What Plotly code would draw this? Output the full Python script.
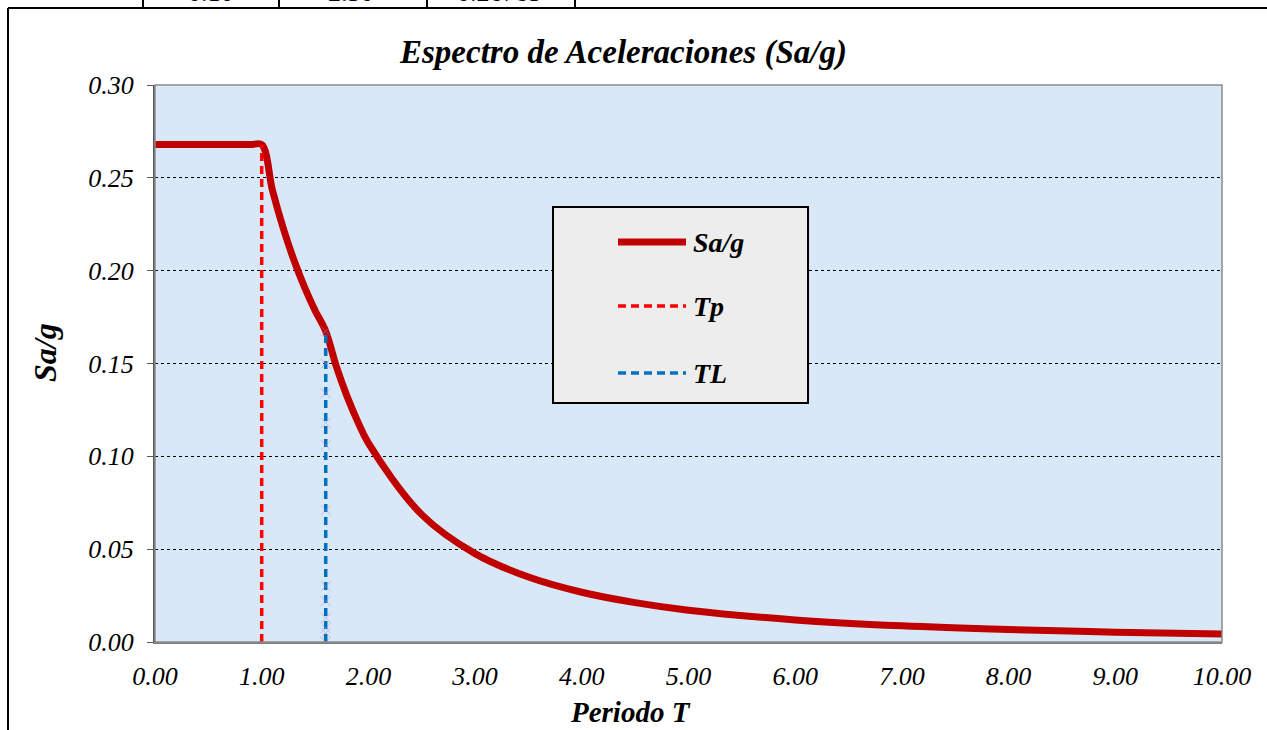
import plotly.graph_objects as go

# ---------------- data ----------------
periodo_T = [0.0, 0.1, 0.2, 0.3, 0.4, 0.5, 0.6, 0.7, 0.8, 0.9, 1.0,
             1.1, 1.2, 1.3, 1.4, 1.5, 1.6, 1.7, 1.8, 1.9, 2.0,
             2.5, 3.0, 3.5, 4.0, 4.5, 5.0, 6.0, 7.0, 8.0, 9.0, 10.0]
sa_g = [0.2679, 0.2679, 0.2679, 0.2679, 0.2679, 0.2679, 0.2679, 0.2679, 0.2679, 0.2679, 0.2679,
        0.2435, 0.2232, 0.2060, 0.1913, 0.1786, 0.1674, 0.1483, 0.1323, 0.1187, 0.1071,
        0.0686, 0.0476, 0.0350, 0.0268, 0.0212, 0.0171, 0.0119, 0.0087, 0.0067, 0.0053, 0.0043]

tp_T = [1.0, 1.0]
tp_y = [0.0, 0.2679]

tl_T = [1.6, 1.6, 1.6, 1.6, 1.6, 1.6, 1.6, 1.6, 1.6, 1.6, 1.6, 1.6]
tl_y = [0.0, 0.005, 0.0075, 0.013, 0.022, 0.030, 0.071, 0.106, 0.118, 0.134, 0.150, 0.1674]

x_ticks = [0, 1, 2, 3, 4, 5, 6, 7, 8, 9, 10]
y_ticks = [0.0, 0.05, 0.10, 0.15, 0.20, 0.25, 0.30]

table_cells = ["0.10", "2.50", "0.26785"]

legend_names = ["Sa/g", "Tp", "TL"]

# ---------------- layout geometry ----------------
W, H = 1267, 730
ML, MR, MT, MB = 155, 45, 85, 88
PW, PH = W - ML - MR, H - MT - MB


def px(x):
    return (x - ML) / PW


def py(y):
    return (H - MB - y) / PH


SERIF = "Liberation Serif"
RED_DARK = "#c00000"
RED = "#ff0000"
BLUE = "#0070c0"

fig = go.Figure()

fig.add_trace(go.Scatter(
    x=periodo_T, y=sa_g, mode="lines", name=legend_names[0],
    line=dict(color=RED_DARK, width=7, shape="spline", smoothing=1.0),
    showlegend=False))

fig.add_trace(go.Scatter(
    x=tp_T, y=tp_y, mode="lines", name=legend_names[1],
    line=dict(color=RED, width=3.5, dash="8px,5px"),
    showlegend=False))

fig.add_trace(go.Scatter(
    x=tl_T, y=tl_y, mode="lines+markers", name=legend_names[2],
    line=dict(color=BLUE, width=3.5, dash="8px,5px"),
    marker=dict(symbol="x-thin", size=10, color="rgba(150,140,200,0.45)",
                line=dict(width=1, color="rgba(150,140,200,0.45)")),
    showlegend=False))

shapes = []
# plot area border
shapes.append(dict(type="rect", xref="paper", yref="paper", x0=0, x1=1, y0=0, y1=1,
                   line=dict(color="#8c8c8c", width=1.5), layer="above"))
# outer chart border
shapes.append(dict(type="line", xref="paper", yref="paper",
                   x0=px(8), x1=px(8), y0=py(8), y1=py(735), line=dict(color="black", width=2)))
shapes.append(dict(type="line", xref="paper", yref="paper",
                   x0=px(8), x1=px(1275), y0=py(8), y1=py(8), line=dict(color="black", width=2)))
# table fragment above
for xv in [143, 279, 427, 575]:
    shapes.append(dict(type="line", xref="paper", yref="paper",
                       x0=px(xv), x1=px(xv), y0=py(-5), y1=py(8), line=dict(color="black", width=2)))

# custom legend box
shapes.append(dict(type="rect", xref="paper", yref="paper",
                   x0=px(553), x1=px(808), y0=py(403), y1=py(207),
                   fillcolor="#ededed", line=dict(color="black", width=2), layer="above"))
leg_y = [242, 306, 373]
leg_styles = [dict(color=RED_DARK, width=7),
              dict(color=RED, width=3.5, dash="8px,5px"),
              dict(color=BLUE, width=3.5, dash="8px,5px")]
for yy, st in zip(leg_y, leg_styles):
    shapes.append(dict(type="line", xref="paper", yref="paper",
                       x0=px(618), x1=px(686), y0=py(yy), y1=py(yy), line=st, layer="above"))

BI = dict(family=SERIF, color="black", weight="bold", style="italic")
annotations = []
for yy, name in zip(leg_y, legend_names):
    annotations.append(dict(xref="paper", yref="paper", x=px(691), y=py(yy), text=name,
                            showarrow=False, xanchor="left", yanchor="middle",
                            font=dict(size=28, **BI)))

# title
annotations.append(dict(xref="paper", yref="paper", x=px(623), y=py(52),
                        text="Espectro de Aceleraciones (Sa/g)", showarrow=False,
                        xanchor="center", yanchor="middle", font=dict(size=33, **BI)))
# axis titles
annotations.append(dict(xref="paper", yref="paper", x=px(630), y=py(712),
                        text="Periodo T", showarrow=False, xanchor="center", yanchor="middle",
                        font=dict(size=29, **BI)))
annotations.append(dict(xref="paper", yref="paper", x=px(45), y=py(353),
                        text="Sa/g", showarrow=False, xanchor="center", yanchor="middle", textangle=-90,
                        font=dict(size=32, **BI)))
# table text (cut off by the top edge, as in the source)
for xc, t in zip([211, 351, 499], table_cells):
    annotations.append(dict(xref="paper", yref="paper", x=px(xc), y=py(9), text=t,
                            showarrow=False, xanchor="center", yanchor="bottom",
                            font=dict(family=SERIF, size=26, color="black")))

fig.update_layout(
    width=W, height=H,
    margin=dict(l=ML, r=MR, t=MT, b=MB, pad=0),
    paper_bgcolor="white",
    plot_bgcolor="#d9e8f7",
    showlegend=False,
    shapes=shapes,
    annotations=annotations,
    font=dict(family=SERIF, color="black"),
)

fig.update_xaxes(
    range=[0, 10], tickvals=x_ticks, ticktext=[f"{v:.2f}" for v in x_ticks],
    showgrid=False, zeroline=False, showline=True, linecolor="#7f7f7f", linewidth=2,
    ticks="", ticklabelstandoff=10,
    tickfont=dict(family=SERIF, size=26, color="black", style="italic"))

fig.update_yaxes(
    range=[0, 0.30], tickvals=y_ticks, ticktext=[f"{v:.2f}" for v in y_ticks],
    showgrid=True, gridcolor="black", gridwidth=1, griddash="dot",
    zeroline=False, showline=True, linecolor="#595959", linewidth=2,
    ticks="outside", ticklen=6, tickcolor="#595959", ticklabelstandoff=8,
    tickfont=dict(family=SERIF, size=26, color="black", style="italic"))

fig.write_html("out.html")
